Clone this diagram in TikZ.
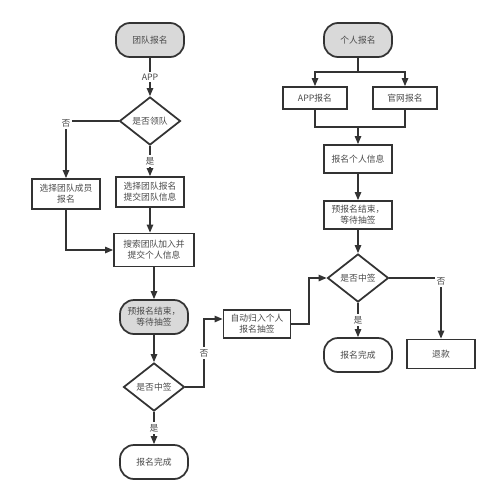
\documentclass[tikz,border=0pt]{standalone}
\usepackage{fontspec}
\newfontfamily\cjk{Noto Sans CJK SC}
\usetikzlibrary{shapes.geometric,arrows.meta}
\definecolor{linegray}{HTML}{333333}
\definecolor{textgray}{HTML}{4A4A4A}
\definecolor{fillgray}{HTML}{D9D9D9}
\tikzset{
  base/.style={draw=linegray, line width=1pt, align=center, text=textgray,
    font=\cjk\fontsize{5}{6.2}\selectfont, inner sep=1pt},
  stepbox/.style={base, rectangle, minimum width=1.36cm, minimum height=0.6cm},
  startbox/.style={base, rectangle, rounded corners=0.28cm, fill=fillgray,
    minimum width=1.36cm, minimum height=0.68cm},
  endbox/.style={startbox, fill=white},
  decision/.style={base, diamond, inner sep=0pt, minimum width=1.22cm, minimum height=0.96cm},
  arr/.style={draw=linegray, line width=0.8pt, -{Triangle[length=4.5pt,width=3.6pt]}},
  con/.style={draw=linegray, line width=0.8pt},
  lbl/.style={fill=white, text=textgray, inner sep=1pt, font=\cjk\fontsize{5}{6}\selectfont}
}

\begin{document}
\begin{tikzpicture}[x=0.02cm,y=-0.02cm]
\useasboundingbox (0,0) rectangle (500,494);

% team sign-up
\node[startbox] (team) at (150,40) {团队报名};
\node[decision] (lead) at (150,121) {是否领队};
\node[stepbox] (member) at (66,194) {选择团队成员\\报名};
\node[stepbox] (leader) at (150,192) {选择团队报名\\提交团队信息};
\node[stepbox, minimum width=1.6cm, minimum height=0.66cm] (search) at (154,250) {搜索团队加入并\\提交个人信息};
\node[startbox] (wait) at (154,317) {预报名结束，\\等待抽签};
\node[decision] (lottery) at (154,387) {是否中签};
\node[endbox] (done) at (154,462) {报名完成};
\node[stepbox, minimum width=1.34cm, minimum height=0.56cm] (auto) at (257,324) {自动归入个人\\报名抽签};

% personal sign-up
\node[startbox] (single) at (358,40) {个人报名};
\node[stepbox, minimum width=1.28cm, minimum height=0.44cm] (appreg) at (315,98) {APP报名};
\node[stepbox, minimum width=1.28cm, minimum height=0.44cm] (webreg) at (405,98) {官网报名};
\node[stepbox, minimum height=0.56cm] (info) at (358,159) {报名个人信息};
\node[stepbox, minimum height=0.56cm] (swait) at (358,215) {预报名结束，\\等待抽签};
\node[decision] (slottery) at (358,278) {是否中签};
\node[endbox] (sdone) at (358,355) {报名完成};
\node[stepbox, minimum height=0.58cm] (refund) at (441,354) {退款};

\coordinate (elbowA) at (204,319);
\coordinate (elbowB) at (309,324);
\coordinate (fork) at (358,72);
\coordinate (join) at (358,127);

\draw[arr] (team) -- node[lbl] {APP} (lead);
\draw[arr] (lead.west) -| node[lbl, pos=0.52] {否} (member);
\draw[arr] (lead) -- node[lbl] {是} (leader);
\draw[arr] (member.south) |- (search.west);
\draw[arr] (leader.south) -- (leader.south |- search.north);
\draw[arr] (search) -- (wait);
\draw[arr] (wait) -- (lottery);
\draw[arr] (lottery) -- node[lbl] {是} (done);
\draw[arr] (lottery.east) -| node[lbl, pos=0.75] {否} (elbowA) -- (elbowA -| auto.west);
\draw[arr] (auto.east |- elbowB) -- (elbowB) |- (slottery.west);

\draw[con] (single) -- (fork);
\draw[arr] (fork) -| (appreg);
\draw[arr] (fork) -| (webreg);
\draw[con] (appreg.south) |- (join);
\draw[con] (webreg.south) |- (join);
\draw[arr] (join) -- (info);
\draw[arr] (info) -- (swait);
\draw[arr] (swait) -- (slottery);
\draw[arr] (slottery) -- node[lbl] {是} (sdone);
\draw[arr] (slottery.east) -| node[lbl, pos=0.53] {否} (refund);
\end{tikzpicture}
\end{document}
